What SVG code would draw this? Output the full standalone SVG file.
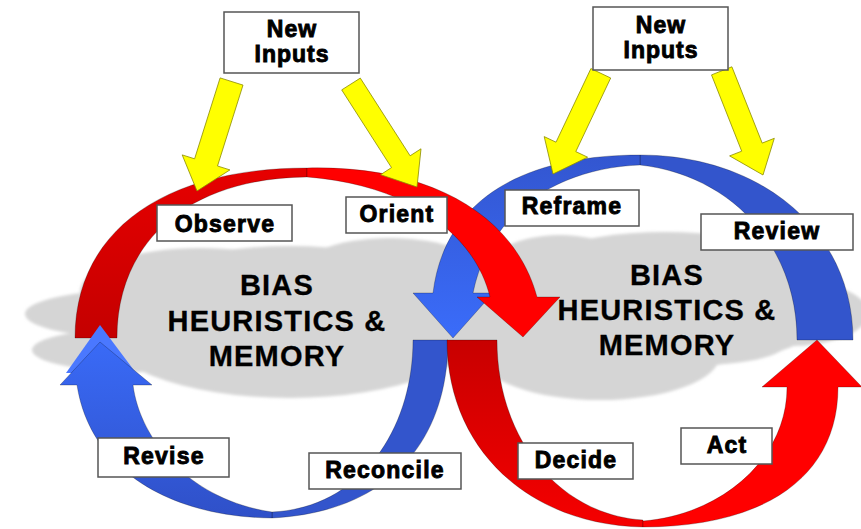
<svg xmlns="http://www.w3.org/2000/svg" width="861" height="529" viewBox="0 0 861 529">
<defs>
<style>
.box{fill:#fff;stroke:#555;stroke-width:1.5}
.lbl{font-family:"Liberation Sans",Arial,sans-serif;font-weight:bold;font-size:23px;letter-spacing:1.2px;text-anchor:middle;fill:#000;stroke:#000;stroke-width:0.9}
.ni{font-family:"Liberation Sans",Arial,sans-serif;font-weight:bold;font-size:23px;letter-spacing:1px;text-anchor:middle;fill:#000;stroke:#000;stroke-width:0.9}
.big{font-family:"Liberation Sans",Arial,sans-serif;font-weight:bold;font-size:29px;letter-spacing:1.2px;text-anchor:middle;fill:#000;stroke:#000;stroke-width:0.3}
.cloud{fill:#d5d5d5}
.edge{stroke:#000;stroke-opacity:0.35;stroke-width:0.7}
.yel{fill:#ffff00;stroke:#8a8a00;stroke-width:0.8}
</style>
<filter id="soft" x="-5%" y="-10%" width="110%" height="120%"><feGaussianBlur stdDeviation="1.5"/></filter>
<linearGradient id="gA" gradientUnits="userSpaceOnUse" x1="0" y1="338" x2="0" y2="170"><stop offset="0" stop-color="#c40000"/><stop offset="1" stop-color="#e60000"/></linearGradient>
<linearGradient id="gG" gradientUnits="userSpaceOnUse" x1="0" y1="340" x2="0" y2="527"><stop offset="0" stop-color="#c80000"/><stop offset="1" stop-color="#f50000"/></linearGradient>
<linearGradient id="gC" gradientUnits="userSpaceOnUse" x1="0" y1="338" x2="0" y2="155"><stop offset="0" stop-color="#3a6cfa"/><stop offset="1" stop-color="#3356d0"/></linearGradient>
<linearGradient id="gF" gradientUnits="userSpaceOnUse" x1="0" y1="330" x2="0" y2="518"><stop offset="0" stop-color="#3a6cfa"/><stop offset="1" stop-color="#2f50c8"/></linearGradient>
</defs>
<rect width="861" height="529" fill="#fff"/>

<g id="clouds" class="cloud" filter="url(#soft)">
<ellipse cx="290" cy="322" rx="195" ry="76"/>
<ellipse cx="200" cy="292" rx="120" ry="44"/>
<ellipse cx="135" cy="314" rx="110" ry="24"/>
<ellipse cx="140" cy="350" rx="108" ry="22"/>
<ellipse cx="390" cy="275" rx="95" ry="37"/>
<ellipse cx="440" cy="300" rx="80" ry="55"/>
<ellipse cx="665" cy="300" rx="175" ry="68"/>
<ellipse cx="560" cy="285" rx="85" ry="50"/>
<ellipse cx="790" cy="313" rx="78" ry="33"/>
<ellipse cx="600" cy="355" rx="120" ry="45"/>
<ellipse cx="700" cy="340" rx="90" ry="25"/>
</g>

<g id="bias-left">
<text class="big" x="277" y="295">BIAS</text>
<text class="big" x="277" y="331">HEURISTICS &amp;</text>
<text class="big" x="277" y="366">MEMORY</text>
</g>
<g id="bias-right">
<text class="big" x="667" y="285">BIAS</text>
<text class="big" x="667" y="320">HEURISTICS &amp;</text>
<text class="big" x="667" y="355">MEMORY</text>
</g>

<g id="connectors">
<path id="arc-observe" class="edge" fill="url(#gA)" d="M75,338 C75,230 165,168 307,168 L307,177 C190,178 117,240 117,338 Z"/>
<path id="arc-review" class="edge" fill="#3355cc" d="M640,155 C760,155 853,230 853,340 L797,340 C797,245 730,175 640,165 Z"/>
<path id="arc-reconcile" class="edge" fill="#3355cc" d="M413,340 L448,340 C448,440 390,512 272,518 L272,512 C360,508 413,430 413,340 Z"/>
<path id="arc-decide" class="edge" fill="url(#gG)" d="M447,340 L497,340 C497,440 560,515 643,520 L643,527 C530,525 447,450 447,340 Z"/>
<path id="arc-act" class="edge" fill="#ff0000" d="M643,527 C760,527 838,480 838,387 L862,387 L817,340 L762,387 L787,387 C787,460 720,515 643,521 Z"/>
<path id="arc-revise-back" fill="#4a78ff" d="M100,325 L66,373 L136,373 Z"/>
<path id="arc-revise" class="edge" fill="url(#gF)" d="M272,518 C170,517 90,470 77,385 L60,385 L100,342 L152,385 L133,385 C140,440 190,500 272,512 Z"/>
<path id="arc-reframe" class="edge" fill="url(#gC)" d="M640,155 C530,155 445,195 433,293 L413,293 L453,338 L493,293 L473,293 C490,210 560,168 640,165 Z"/>
<path id="arc-orient" class="edge" fill="#ff0000" d="M307,168 C430,165 515,215 537,297 L560,297 L523,337 L477,297 L490,297 C475,235 410,185 307,177 Z"/>
<polygon id="in1" class="yel" points="220.1,77.9 243,85.1 217.5,166 229.9,169.9 197,191 182.2,154.9 194.6,158.8"/>
<polygon id="in2" class="yel" points="341.7,89.9 360.3,78.1 410.1,155.8 421,148.8 417,187 380.6,174.7 391.5,167.6"/>
<polygon id="in3" class="yel" points="590.9,68.6 610.7,78 575.8,151.6 587.6,157.2 553,174 544.2,136.6 556,142.2"/>
<polygon id="in4" class="yel" points="711.5,74.9 731.9,66.8 762.2,143.1 774.3,138.3 763,175 729.6,155.9 741.7,151.2"/>
</g>

<g id="newinputs-left"><rect class="box" x="224" y="12" width="135" height="61"/><text class="ni" x="292" y="37">New</text><text class="ni" x="292" y="62">Inputs</text></g>
<g id="newinputs-right"><rect class="box" x="593" y="7" width="135" height="63"/><text class="ni" x="661" y="33">New</text><text class="ni" x="661" y="58">Inputs</text></g>
<g id="observe"><rect class="box" x="157" y="205" width="135" height="36"/><text class="lbl" x="225" y="232">Observe</text></g>
<g id="orient"><rect class="box" x="346" y="197" width="101" height="36"/><text class="lbl" x="397" y="222">Orient</text></g>
<g id="reframe"><rect class="box" x="505" y="190" width="134" height="36"/><text class="lbl" x="572" y="214">Reframe</text></g>
<g id="review"><rect class="box" x="701" y="214" width="152" height="36"/><text class="lbl" x="777" y="239">Review</text></g>
<g id="revise"><rect class="box" x="98" y="438" width="131" height="39"/><text class="lbl" x="164" y="464">Revise</text></g>
<g id="reconcile"><rect class="box" x="309" y="453" width="152" height="36"/><text class="lbl" x="385" y="478">Reconcile</text></g>
<g id="decide"><rect class="box" x="518" y="443" width="115" height="36"/><text class="lbl" x="576" y="468">Decide</text></g>
<g id="act"><rect class="box" x="681" y="428" width="91" height="36"/><text class="lbl" x="727" y="453">Act</text></g>
</svg>
